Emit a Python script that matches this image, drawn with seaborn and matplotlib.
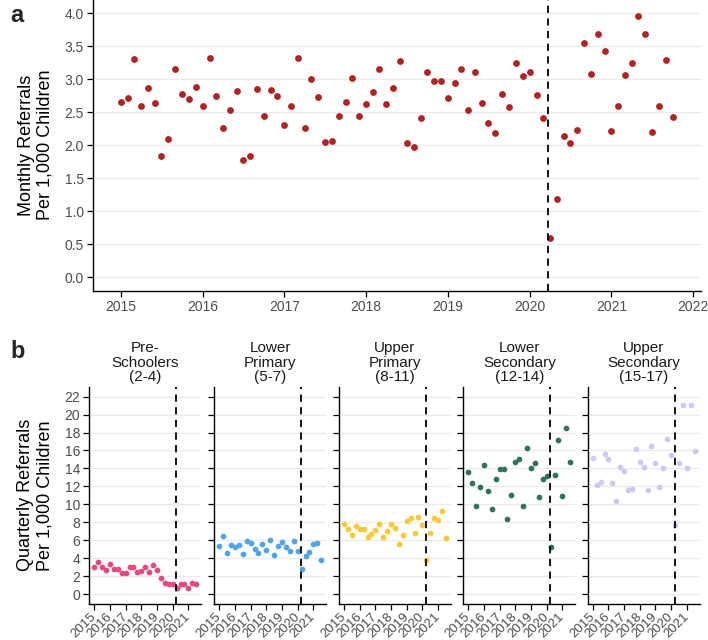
import numpy as np
import pandas as pd
import matplotlib
matplotlib.use("Agg")
import matplotlib.pyplot as plt
import seaborn as sns

# ---------------- data ----------------
monthly_start = "2015-01-01"
monthly_rate = [
    2.66, 2.71, 3.31, 2.60, 2.87, 2.64, 1.84, 2.09, 3.16, 2.77, 2.70, 2.88,
    2.60, 3.32, 2.74, 2.26, 2.54, 2.82, 1.78, 1.83, 2.85, 2.44, 2.84, 2.74,
    2.30, 2.60, 3.32, 2.26, 3.00, 2.73, 2.05, 2.06, 2.45, 2.66, 3.02, 2.44,
    2.62, 2.81, 3.16, 2.62, 2.87, 3.27, 2.04, 1.97, 2.41, 3.11, 2.97, 2.98,
    2.71, 2.95, 3.15, 2.53, 3.11, 2.64, 2.33, 2.18, 2.77, 2.58, 3.25, 3.05,
    3.11, 2.76, 2.41, 0.59, 1.18, 2.14, 2.03, 2.23, 3.55, 3.08, 3.69, 3.43,
    2.21, 2.59, 3.06, 3.24, 3.96, 3.68, 2.20, 2.59, 3.29, 2.43,
]

quarter_start = "2015-01-01"
group_titles = ["Pre-\nSchoolers\n(2-4)", "Lower\nPrimary\n(5-7)", "Upper\nPrimary\n(8-11)",
                "Lower\nSecondary\n(12-14)", "Upper\nSecondary\n(15-17)"]
pre_schoolers = [2.97, 3.60, 2.97, 2.68, 3.34, 2.75, 2.75, 2.38, 2.38, 3.01, 3.01, 2.49, 2.60, 3.01,
                 2.42, 3.27, 2.64, 1.82, 1.26, 1.15, 1.15, 0.67, 1.15, 1.15, 0.63, 1.22, 1.08]
lower_primary = [5.39, 6.50, 4.61, 5.50, 5.24, 5.42, 4.42, 5.87, 5.68, 5.02, 4.57, 5.57, 4.90, 5.98,
                 4.38, 5.35, 5.83, 5.20, 4.76, 5.91, 4.76, 2.79, 4.27, 4.68, 5.61, 5.68, 3.79]
upper_primary = [7.84, 7.25, 6.61, 7.54, 7.25, 7.25, 6.35, 6.69, 7.17, 7.77, 6.35, 7.06, 7.77, 7.36,
                 5.54, 6.61, 8.17, 8.44, 6.76, 8.58, 7.73, 3.79, 6.84, 8.47, 8.21, 9.29, 6.28]
lower_secondary = [13.60, 12.37, 9.85, 11.96, 14.34, 11.52, 9.51, 12.78, 13.90, 13.90, 8.33, 11.07,
                   14.75, 15.08, 9.78, 16.28, 14.05, 14.60, 10.81, 12.82, 13.12, 5.24, 13.23, 17.17,
                   10.96, 18.54, 14.68]
upper_secondary = [15.16, 12.19, 12.49, 15.57, 15.09, 12.34, 10.37, 14.12, 13.75, 11.56, 11.71, 16.17,
                   14.72, 14.16, 11.56, 16.46, 14.60, 11.93, 14.05, 17.28, 15.46, 7.69, 14.60, 21.03,
                   14.05, 21.03, 15.98]
group_series = [pre_schoolers, lower_primary, upper_primary, lower_secondary, upper_secondary]
group_colors = ["#E8487F", "#4EA5EC", "#FBC934", "#2F7360", "#CFC8F5"]
top_color = "#B22222"
lockdown = "2020-03-23"

top_years = list(range(2015, 2023))
bottom_years = list(range(2015, 2022))
bottom_yticks = list(range(0, 23, 2))


def dec_year(d):
    d = pd.to_datetime(d)
    days = np.where(d.is_leap_year, 366, 365)
    return d.year + (d.dayofyear - 1) / days


# ---------------- style ----------------
sns.set_theme(style="white")
plt.rcParams["font.family"] = ["Liberation Sans Narrow", "Liberation Sans", "DejaVu Sans"]
TICK_COL = "#4D4D4D"
GRID_COL = "#EBEBEB"

W, H = 708, 640
fig = plt.figure(figsize=(W / 100, H / 100), dpi=100)


def px_axes(left, top, right, bottom):
    return fig.add_axes([left / W, 1 - bottom / H, (right - left) / W, (bottom - top) / H])


def style_axes(ax):
    for s in ["top", "right"]:
        ax.spines[s].set_visible(False)
    for s in ["left", "bottom"]:
        ax.spines[s].set_color("black")
        ax.spines[s].set_linewidth(1.0)
    ax.tick_params(axis="both", which="major", direction="out", length=4, width=0.9,
                   color="black", labelcolor=TICK_COL, bottom=True, left=True, pad=2.5)
    ax.grid(False)
    ax.yaxis.grid(True, color=GRID_COL, linewidth=1.0)
    ax.set_axisbelow(True)


# ---------------- top panel ----------------
mdates = pd.date_range(monthly_start, periods=len(monthly_rate), freq="MS")
top_df = pd.DataFrame({"x": dec_year(mdates), "rate": monthly_rate})

ax = px_axes(93, 0, 700.6, 290.5)
style_axes(ax)
sns.scatterplot(data=top_df, x="x", y="rate", color=top_color, s=24, linewidth=0, ax=ax, zorder=3)
ld = float(dec_year(pd.DatetimeIndex([lockdown]))[0])
ax.axvline(ld, color="black", linestyle=(0, (4, 3)), linewidth=1.3, zorder=4)
ax.set_xlim(2014.66, 2022.09)
ax.set_ylim(-0.2, 4.2)
ax.set_xticks(top_years)
ax.set_xticklabels([str(y) for y in top_years], fontsize=10)
yt = np.arange(0, 4.01, 0.5)
ax.set_yticks(yt)
ax.set_yticklabels([f"{v:.1f}" for v in yt], fontsize=10)
ax.set_xlabel("")
ax.set_ylabel("Monthly Referrals\nPer 1,000 Children", fontsize=13, color="black",
              family=["Liberation Sans", "DejaVu Sans"], labelpad=8, linespacing=1.15)

fig.text(10 / W, 1 - 15 / H, "a", fontsize=17, fontweight="bold", va="center", ha="left",
         family=["Liberation Sans", "DejaVu Sans"])
fig.text(10 / W, 1 - 352 / H, "b", fontsize=17, fontweight="bold", va="center", ha="left",
         family=["Liberation Sans", "DejaVu Sans"])

# ---------------- bottom panels ----------------
qdates = pd.date_range(quarter_start, periods=len(pre_schoolers), freq="QS")
qx = dec_year(qdates)
lefts = [89.3, 214.3, 339.0, 463.3, 587.7]
for i, (title, vals, col) in enumerate(zip(group_titles, group_series, group_colors)):
    bx = px_axes(lefts[i], 386.8, lefts[i] + 112, 603.9)
    style_axes(bx)
    df = pd.DataFrame({"x": qx, "rate": vals})
    sns.scatterplot(data=df, x="x", y="rate", color=col, s=17, linewidth=0, ax=bx, zorder=3)
    bx.axvline(ld, color="black", linestyle=(0, (4, 3)), linewidth=1.3, zorder=4)
    bx.set_xlim(2014.675, 2021.825)
    bx.set_ylim(-1.1, 23.1)
    bx.set_xticks(bottom_years)
    bx.set_xticklabels([str(y) for y in bottom_years], fontsize=9.5, rotation=45,
                       ha="right", va="center", rotation_mode="anchor")
    bx.tick_params(axis="x", pad=4)
    bx.set_yticks(bottom_yticks)
    if i == 0:
        bx.set_yticklabels([str(v) for v in bottom_yticks], fontsize=10)
        bx.set_ylabel("Quarterly Referrals\nPer 1,000 Children", fontsize=13, color="black",
                      family=["Liberation Sans", "DejaVu Sans"], labelpad=8, linespacing=1.15)
    else:
        bx.set_yticklabels([])
        bx.set_ylabel("")
    bx.set_xlabel("")
    bx.set_title(title, fontsize=11, color="#1A1A1A", linespacing=1.05, pad=4)

fig.savefig("out.png", dpi=100)
